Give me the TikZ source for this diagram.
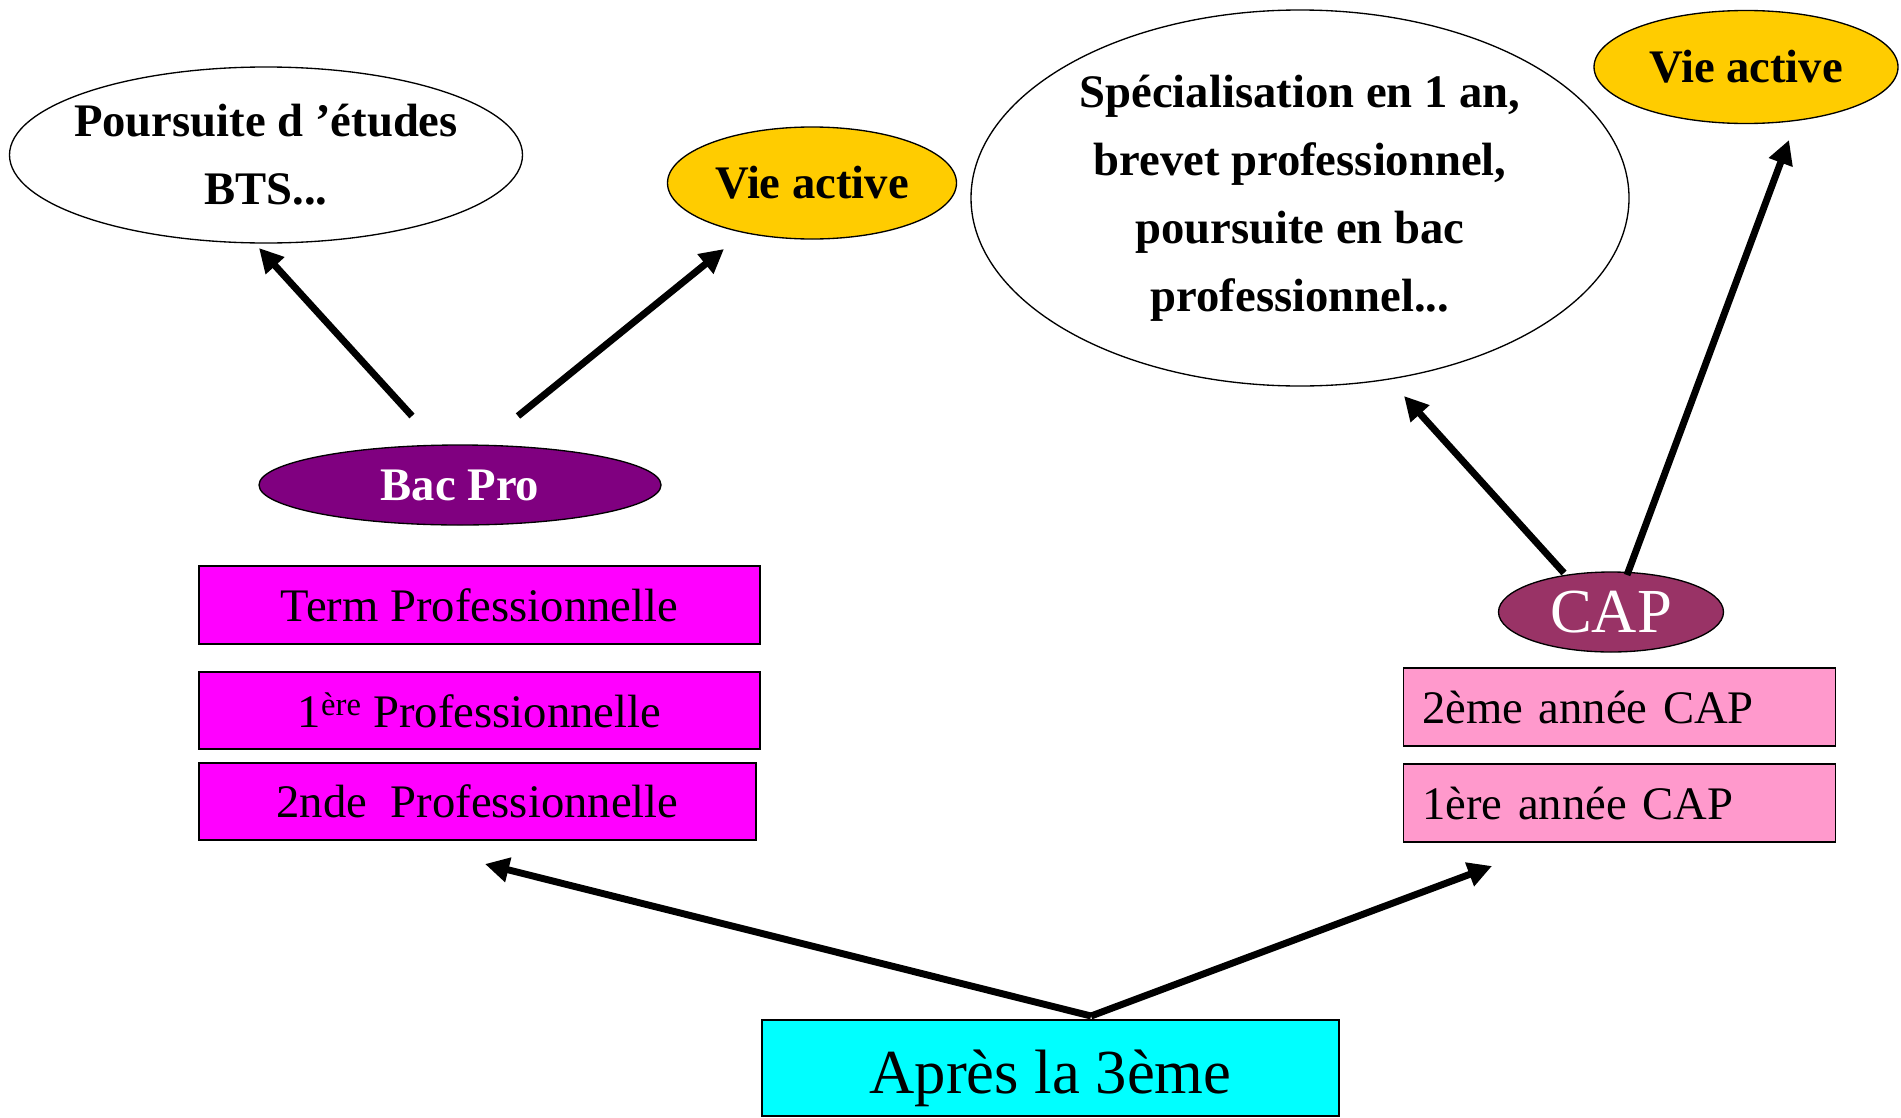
\documentclass[tikz,border=0pt]{standalone}
\usepackage{fontspec}
\setmainfont{Liberation Serif}
\usepackage{tikz}
\usetikzlibrary{shapes.geometric}
\usetikzlibrary{arrows.meta}

\definecolor{bacpurple}{RGB}{128,0,128}
\definecolor{vieyellow}{RGB}{255,204,0}
\definecolor{capplum}{RGB}{153,51,102}
\definecolor{cappink}{RGB}{255,153,204}
\definecolor{bacmagenta}{RGB}{255,0,255}
\definecolor{troiscyan}{RGB}{0,255,255}

\tikzset{
  bulle/.style={ellipse,draw=black,line width=1pt,inner sep=0pt,align=center,
    font=\fontsize{35}{51}\selectfont\bfseries},
  classe/.style={rectangle,draw=black,line width=1.2pt,inner sep=0pt,
    font=\fontsize{35}{42}\selectfont},
  annee/.style={classe,fill=cappink,inner xsep=14pt,text width=296pt,align=left,
    minimum height=58.5pt},
  fleche/.style={line width=5.2pt,-{Triangle[length=18pt,width=18pt]}}
}

\begin{document}
\begin{tikzpicture}[x=0.75pt,y=0.75pt,yscale=-1,xscale=1]
\useasboundingbox (0,0) rectangle (1901,1117);

%Shape: Ellipse [poursuite]
\node[bulle,minimum width=384.75pt,minimum height=132pt] (poursuite) at (266,155) {};
% Text Node
\node[align=center,inner sep=0pt,font=\fontsize{35}{51}\selectfont\bfseries] (poursuiteTxt) at (poursuite.center) {Poursuite d ’études\\BTS...};
%Shape: Ellipse [vie active gauche]
\node[bulle,fill=vieyellow,minimum width=216.75pt,minimum height=84pt] (vieA) at (812,183) {Vie active};
%Shape: Ellipse [bac pro]
\node[bulle,fill=bacpurple,text=white,minimum width=301.5pt,minimum height=60pt] (bacpro) at (460,485) {Bac Pro};

%Shape: Rectangle [classes bac pro]
\node[classe,fill=bacmagenta,minimum width=420.75pt,minimum height=58.5pt] (term) at (479.5,605) {Term Professionnelle};
\node[classe,fill=bacmagenta,minimum width=420.75pt,minimum height=57.75pt] (premiere) at (479.5,710.5) {1\textsuperscript{ère} Professionnelle};
\node[classe,fill=bacmagenta,minimum width=417.75pt,minimum height=57.75pt] (seconde) at (477.5,801.5) {2nde~ Professionnelle};

%Shape: Ellipse [specialisation]
\node[bulle,minimum width=493.5pt,minimum height=282pt] (special) at (1300,198) {Spécialisation en 1 an,\\brevet professionnel,\\poursuite en bac\\professionnel...};
%Shape: Ellipse [vie active droite]
\node[bulle,fill=vieyellow,minimum width=228pt,minimum height=84.75pt] (vieB) at (1746,67) {Vie active};
%Shape: Ellipse [cap]
\node[ellipse,draw=black,line width=1pt,inner sep=0pt,fill=capplum,text=white,
  font=\fontsize{47}{56}\selectfont,minimum width=168.75pt,minimum height=60pt] (cap) at (1611,612) {CAP};

%Shape: Rectangle [annees cap]
\node[annee] (capdeux) at (1619.5,707) {2ème année CAP};
\node[annee] (capun) at (1619.5,803) {1ère année CAP};

%Shape: Rectangle [apres la 3eme]
\node[classe,fill=troiscyan,font=\fontsize{47}{56}\selectfont,text height=37.5pt,text depth=0pt,
  minimum width=432.75pt,minimum height=72pt] (apres) at (1050.5,1068) {Après la 3ème};

% free ends of the arrows
\coordinate (bpA) at (412,416);
\coordinate (bpB) at (518,416);
\coordinate (pA) at (259,248);
\coordinate (vA) at (724,249);
\coordinate (capA) at (1564,573);
\coordinate (capB) at (1627,575);
\coordinate (sA) at (1404,396);
\coordinate (vB) at (1789,140);
\coordinate (pointe) at (1091,1016);
\coordinate (versBac) at (485,864);
\coordinate (versCap) at (1492,866);

%Straight Lines
\draw[fleche] (bpA) -- (pA);
\draw[fleche] (bpB) -- (vA);
\draw[fleche] (capA) -- (sA);
\draw[fleche] (capB) -- (vB);
\draw[fleche] (pointe) -- (versBac);
\draw[fleche] (pointe) -- (versCap);

\end{tikzpicture}
\end{document}
